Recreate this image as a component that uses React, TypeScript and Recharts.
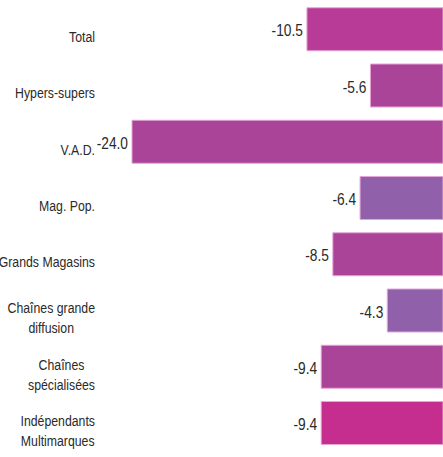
import { BarChart, Bar, XAxis, YAxis, Cell, LabelList } from "recharts";

// Categories (line breaks as drawn in the reference)
const categories = [
  "Total",
  "Hypers-supers",
  "V.A.D.",
  "Mag. Pop.",
  "Grands Magasins",
  "Chaînes grande\ndiffusion",
  "Chaînes\nspécialisées",
  "Indépendants\nMultimarques",
];

// Change in %
const values = [-10.5, -5.6, -24.0, -6.4, -8.5, -4.3, -9.4, -9.4];

const barColors = [
  "#b83b97",
  "#aa4499",
  "#aa4499",
  "#9160aa",
  "#aa4499",
  "#9160aa",
  "#aa4499",
  "#c52e8f",
];

// no narrow font available: Liberation Sans squeezed horizontally (Arial Narrow look)
const FONT = "'Liberation Sans', Arial, sans-serif";
const SQUEEZE = 0.82;

const data = categories.map((name, i) => ({ name, value: values[i] }));

let ctx: CanvasRenderingContext2D | null = null;
function textWidth(s: string) {
  if (!ctx) ctx = document.createElement("canvas").getContext("2d");
  if (!ctx) return s.length * 7;
  ctx.font = `15px ${FONT}`;
  return ctx.measureText(s).width;
}

function NarrowText({ x, y, anchor, size = 15, squeeze = SQUEEZE, children }: any) {
  return (
    <g transform={`translate(${x},${y}) scale(${squeeze},1)`}>
      <text x={0} y={0} textAnchor={anchor} fontSize={size} fontFamily={FONT} fill="#2a2a2a">
        {children}
      </text>
    </g>
  );
}

function CategoryTick(props: any) {
  const { y, payload } = props;
  const right = 95;
  const lines = String(payload.value).split("\n");
  if (lines.length === 1) {
    return (
      <NarrowText x={right} y={y + 13} anchor="end">
        {lines[0]}
      </NarrowText>
    );
  }
  const w = Math.max(...lines.map(textWidth)) * SQUEEZE;
  const cx = right - w / 2;
  return (
    <g>
      {lines.map((l, i) => (
        <NarrowText key={i} x={cx} y={y + 3 + i * 20} anchor="middle">
          {l}
        </NarrowText>
      ))}
    </g>
  );
}

function ValueLabel(props: any) {
  const { x, y, width, height, value } = props;
  const left = Math.min(x, x + width);
  return (
    <NarrowText x={left - 4} y={y + height / 2 + 7} anchor="end" size={16} squeeze={0.86}>
      {Number(value).toFixed(1)}
    </NarrowText>
  );
}

export default function App() {
  return (
    <div style={{ position: "absolute", left: 0, top: 0, background: "#fff" }}>
      <BarChart
        width={443}
        height={457}
        data={data}
        layout="vertical"
        margin={{ top: 1, right: 0, bottom: 6, left: 0 }}
        barCategoryGap="12%"
      >
        <XAxis type="number" domain={[-24, 0]} hide />
        <YAxis
          type="category"
          dataKey="name"
          width={132}
          axisLine={false}
          tickLine={false}
          tick={<CategoryTick />}
          interval={0}
        />
        <Bar dataKey="value" isAnimationActive={false} stroke="#e4a6d6" strokeWidth={1}>
          {data.map((d, i) => (
            <Cell key={d.name} fill={barColors[i]} />
          ))}
          <LabelList dataKey="value" content={<ValueLabel />} />
        </Bar>
      </BarChart>
    </div>
  );
}
